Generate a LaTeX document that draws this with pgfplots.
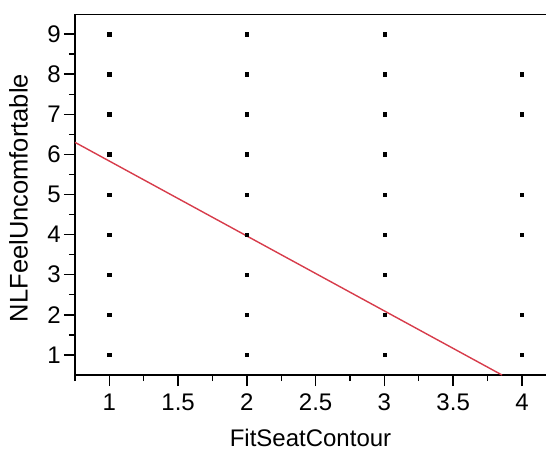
\documentclass[border=0pt]{standalone}
\usepackage{fontspec}
\setmainfont{Liberation Sans}
\usepackage{pgfplots}
\pgfplotsset{compat=1.18}
\begin{document}
\fontsize{24}{28}\selectfont
\begin{tikzpicture}
\path[use as bounding box] (-75pt,-76pt) rectangle (471pt,375pt);
\begin{axis}[
  at={(0,0)}, anchor=south west,
  scale only axis, width=471pt, height=361pt,
  xmin=0.75, xmax=4.175, ymin=0.5, ymax=9.5,
  axis x line*=bottom, axis y line*=left,
  axis line style={line width=1.8pt, -},
  xtick={1,1.5,2,2.5,3,3.5,4},
  xticklabels={1,1.5,2,2.5,3,3.5,4},
  minor xtick={0.75,1.25,1.75,2.25,2.75,3.25,3.75},
  ytick={1,...,9},
  minor ytick={1.5,2.5,...,8.5},
  tick align=outside,
  major tick length=11pt, minor tick length=6pt,
  every tick/.style={black, line width=1.4pt},
  yticklabel style={xshift=5pt},
  /pgf/number format/assume math mode=true,
  ticklabel style={font=\fontsize{24}{28}\selectfont},
  label style={font=\fontsize{24}{28}\selectfont},
  xlabel={FitSeatContour},
  ylabel={NLFeelUncomfortable},
  xlabel style={at={(axis description cs:0.5,-0.1745)}, anchor=center},
  ylabel style={at={(axis description cs:-0.12,0.49)}, anchor=center, font=\fontsize{25.5}{28}\selectfont},
  clip=true,
]
\addplot[only marks, mark=square*, mark size=1.7pt, black] coordinates {
  (1,1)(1,2)(1,3)(1,4)(1,5)(1,6)(1,7)(1,8)(1,9)
  (2,1)(2,2)(2,3)(2,4)(2,5)(2,6)(2,7)(2,8)(2,9)
  (3,1)(3,2)(3,3)(3,4)(3,5)(3,6)(3,7)(3,8)(3,9)
  (4,1)(4,2)(4,4)(4,5)(4,7)(4,8)
};
\addplot[no marks, color={rgb,255:red,215;green,60;blue,75}, line width=1.4pt] coordinates {
  (0.75,6.30) (3.855,0.5)
};
\draw[line width=1.8pt] ([xshift=-5pt]rel axis cs:0,1) -- (rel axis cs:1,1);
\end{axis}
\end{tikzpicture}
\end{document}
